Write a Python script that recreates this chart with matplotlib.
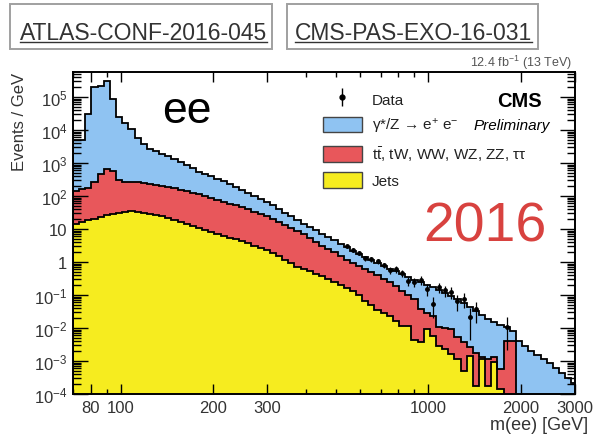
import numpy as np
import matplotlib
matplotlib.use('Agg')
import matplotlib.pyplot as plt
from matplotlib.patches import Patch, Rectangle
from matplotlib.lines import Line2D
from matplotlib.ticker import FixedLocator, FuncFormatter, NullFormatter

plt.rcParams['font.family'] = ['Liberation Sans', 'DejaVu Sans']
plt.rcParams['mathtext.fontset'] = 'custom'
plt.rcParams['mathtext.rm'] = 'Liberation Sans'
plt.rcParams['mathtext.it'] = 'Liberation Sans:italic'
plt.rcParams['mathtext.bf'] = 'Liberation Sans:bold'

# ---------------- data ----------------
mass_min, mass_max = 70, 3000
bin_width_dex = 0.02
n_bins = 82
edges = mass_min * 10 ** (bin_width_dex * np.arange(n_bins + 1))

# stacked tops (Events / GeV)
total = [5000, 5000, 30500, 2.0e5, 2.15e5, 3.05e5, 8.7e4, 2.5e4, 1.63e4, 1.07e4,
         5730, 3770, 2660, 2310, 1870, 1630, 1320, 1070, 870, 705,
         533, 464, 404, 327, 285, 231, 187, 152, 123, 100,
         81, 66, 53, 40, 30.5, 24.8, 18.7, 14.2, 11.5, 9.3,
         7.05, 5.7, 4.64, 3.5, 2.85, 2.15, 1.75, 1.42, 1.15, 0.93,
         0.76, 0.61, 0.53, 0.43, 0.35, 0.285, 0.248, 0.20, 0.175, 0.142,
         0.115, 0.093, 0.076, 0.057, 0.043, 0.033, 0.025, 0.019, 0.015, 0.0123,
         0.0107, 0.0081, 0.0040, 0.00285, 0.0020, 0.00152, 0.00115, 0.00087, 0.00061, 0.00043,
         0.00031, 0.00022]
jets_plus_top = [142, 163, 175, 266, 464, 658, 573, 305, 266, 266,
                 266, 248, 231, 215, 201, 187, 175, 152, 142, 123,
                 115, 100, 87, 76, 66, 57, 53, 46, 40, 33,
                 28.5, 24.8, 20.1, 16.3, 13.2, 10.7, 8.7, 7.05, 5.33, 4.04,
                 3.05, 2.48, 2.01, 1.52, 1.15, 0.93, 0.76, 0.61, 0.50, 0.40,
                 0.305, 0.248, 0.187, 0.132, 0.10, 0.076, 0.038, 0.0285, 0.0231, 0.0107,
                 0.010, 0.0093, 0.0053, 0.0038, 0.00266, 0.00175, 0.00132, 0.00115, 0.00132, 0.00057,
                 0.0040, 0.0040, 0, 0, 0, 0, 0, 0, 0, 0,
                 0, 0]
jets = [14.2, 16.3, 18.7, 20.1, 23.1, 26.5, 28.5, 30.5, 32.7, 35.1,
        32.7, 30.5, 28.5, 26.5, 24.8, 21.5, 18.7, 16.3, 14.2, 12.3,
        10.7, 9.3, 8.1, 7.05, 6.14, 5.33, 4.98, 4.33, 3.77, 3.05,
        2.66, 2.31, 1.87, 1.52, 1.15, 0.93, 0.70, 0.61, 0.53, 0.43,
        0.377, 0.305, 0.248, 0.20, 0.163, 0.132, 0.10, 0.066, 0.050, 0.035,
        0.0285, 0.0231, 0.0163, 0.0115, 0.0115, 0.0043, 0.0038, 0.0093, 0.0057, 0.00285,
        0.0023, 0.00163, 0.00115, 0.0005, 0.00142, 0.000175, 0.00115, 0.000175, 0.00093, 0.00014,
        0, 0, 0, 0, 0, 0, 0, 0, 0, 0,
        0, 0]

# observed data (bins 44..70), 0 = empty bin
data_first_bin = 44
data = [3.05, 2.31, 1.87, 1.32, 1.23, 1.07, 0.81, 0.57, 0.61, 0.46,
        0.265, 0.248, 0.285, 0.152, 0.054, 0.175, 0.142, 0.123, 0.066, 0.076,
        0.0215, 0.0377, 0, 0, 0, 0, 0.0107]

x_tick_values = [80, 100, 200, 300, 1000, 2000, 3000]
x_minor_values = [70, 90, 400, 500, 600, 700, 800, 900]
y_tick_exponents = [-4, -3, -2, -1, 0, 1, 2, 3, 4, 5]

legend_labels = ['Data', 'γ*/Z → e$^{+}$ e$^{-}$',
                 r't$\bar{\mathrm{t}}$, tW, WW, WZ, ZZ, ττ', 'Jets']
c_dy = '#8fc3f2'
c_top = '#e8575b'
c_jets = '#f6ec1f'

# ---------------- figure ----------------
W, H = 594, 435
fig = plt.figure(figsize=(W / 100, H / 100), dpi=100)
ax = fig.add_axes([73 / W, 1 - 395 / H, (575 - 73) / W, (395 - 73) / H])
ax.set_xscale('log')
ax.set_yscale('log')

tiny = 1e-9
for vals, col in [(total, c_dy), (jets_plus_top, c_top), (jets, c_jets)]:
    v = np.asarray(vals, dtype=float)
    v = np.where(v > 0, v, tiny)
    ax.stairs(v, edges, fill=True, color=col, baseline=tiny, zorder=2)
    ax.stairs(v, edges, color='black', lw=1.3, baseline=tiny, zorder=3)

d = np.asarray(data, dtype=float)
lo = edges[data_first_bin:data_first_bin + len(d)]
hi = edges[data_first_bin + 1:data_first_bin + len(d) + 1]
centers = np.sqrt(lo * hi)
widths = hi - lo
mask = d > 0
err = np.sqrt(d[mask] / widths[mask])
yerr_lo = np.minimum(err, d[mask] * 0.8)
ax.errorbar(centers[mask], d[mask], yerr=[yerr_lo, err], fmt='o', ms=2.5,
            color='black', elinewidth=0.9, capsize=0, zorder=4)

ax.set_xlim(mass_min, mass_max)
ax.set_ylim(1e-4, 5.8e5)

ax.xaxis.set_major_locator(FixedLocator(x_tick_values))
ax.xaxis.set_major_formatter(FuncFormatter(lambda v, p: f'{v:g}'))
ax.xaxis.set_minor_locator(FixedLocator(x_minor_values))
ax.xaxis.set_minor_formatter(NullFormatter())


def yfmt(v, p):
    e = int(round(np.log10(v)))
    if e == 0:
        return '1'
    if e == 1:
        return '10'
    return r'$10^{%d}$' % e


y_major = [10.0 ** e for e in y_tick_exponents]
y_minor = [k * 10.0 ** e for e in y_tick_exponents for k in range(2, 10)
           if k * 10.0 ** e < 5.8e5]
ax.yaxis.set_major_locator(FixedLocator(y_major))
ax.yaxis.set_major_formatter(FuncFormatter(yfmt))
ax.yaxis.set_minor_locator(FixedLocator(y_minor))
ax.yaxis.set_minor_formatter(NullFormatter())

ax.tick_params(which='both', direction='in', top=True, right=True, width=1.0,
               labelsize=12, labelcolor='#333333')
ax.tick_params(axis='y', which='major', length=10.5, pad=4)
ax.tick_params(axis='y', which='minor', length=5.5)
ax.tick_params(axis='x', which='major', length=7, pad=4)
ax.tick_params(axis='x', which='minor', length=3.6)
for s in ax.spines.values():
    s.set_linewidth(1.4)
ax.set_axisbelow(False)


def axc(px, py):
    return (px - 73) / 502, (395 - py) / 322


# legend
data_handle = (Line2D([0], [0], marker='|', ms=13, mew=1.0, ls='none', color='black'),
               Line2D([0], [0], marker='o', ms=3.5, ls='none', color='black'))
handles = [data_handle,
           Patch(facecolor=c_dy, edgecolor='#444444', lw=1),
           Patch(facecolor=c_top, edgecolor='#444444', lw=1),
           Patch(facecolor=c_jets, edgecolor='#444444', lw=1)]
leg = ax.legend(handles, legend_labels, loc='upper left', bbox_to_anchor=axc(323, 92),
                frameon=False, fontsize=11, borderpad=0, borderaxespad=0,
                handlelength=2.55, handleheight=1.18, labelspacing=0.6,
                handletextpad=0.65)
for t in leg.get_texts():
    t.set_color('#222222')

tr = ax.transAxes
ax.text(*axc(162, 123), 'ee', transform=tr, fontsize=32, ha='left', va='baseline',
        color='black')
ax.text(*axc(423, 242), '2016', transform=tr, fontsize=40, ha='left', va='baseline',
        color='#d8423f')
ax.text(*axc(542, 107), 'CMS', transform=tr, fontsize=14.5, fontweight='bold',
        ha='right', va='baseline')
ax.text(*axc(550, 130), 'Preliminary', transform=tr, fontsize=11, style='italic',
        ha='right', va='baseline')

fig.text(572 / W, 1 - 67 / H, r'12.4 fb$^{-1}$ (13 TeV)', fontsize=9, color='#555555',
         ha='right', va='baseline')
fig.text(20 / W, 1 - 73 / H, 'Events / GeV', rotation=90, fontsize=12, ha='center',
         va='top', color='#333333')
fig.text(588 / W, 1 - 430 / H, 'm(ee) [GeV]', fontsize=13, ha='right', va='baseline',
         color='#333333')

# top link boxes
links = [('ATLAS-CONF-2016-045', 10, 272, 20), ('CMS-PAS-EXO-16-031', 287, 538, 295)]
texts = []
for label, x0, x1, tx in links:
    fig.add_artist(Rectangle((x0 / W, 1 - 50 / H), (x1 - x0) / W, 45 / H,
                             transform=fig.transFigure, fill=False,
                             edgecolor='#a0a0a0', lw=1.4))
    texts.append(fig.text(tx / W, 1 - 40 / H, label, fontsize=16.5, color='#333333',
                          ha='left', va='baseline'))
fig.canvas.draw()
for t in texts:
    bb = t.get_window_extent()
    fig.add_artist(Line2D([bb.x0 / W, bb.x1 / W], [1 - 42.5 / H, 1 - 42.5 / H],
                          transform=fig.transFigure, color='#333333', lw=1.0))

fig.savefig('out.png', dpi=100, facecolor='white')
